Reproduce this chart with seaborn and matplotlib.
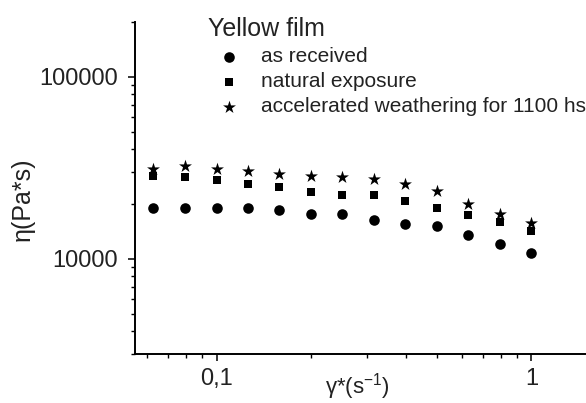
import matplotlib
matplotlib.use("Agg")
import matplotlib.pyplot as plt
import seaborn as sns
import pandas as pd
from matplotlib.ticker import LogLocator, NullFormatter, FixedLocator, FixedFormatter

# ---- data ----
shear_rate = [0.063, 0.0794, 0.1, 0.126, 0.158, 0.2, 0.251, 0.316, 0.398, 0.501, 0.631, 0.794, 1.0]
as_received = [19000, 18900, 19100, 18900, 18500, 17700, 17700, 16400, 15500, 15100, 13500, 12000, 10800]
natural_exposure = [28400, 28000, 27100, 25900, 24700, 23300, 22500, 22500, 20800, 19100, 17300, 16000, 14200]
accelerated = [31300, 32300, 31300, 30400, 29200, 28400, 28200, 27300, 25900, 23600, 20100, 17600, 15700]

series_names = ["as received", "natural exposure", "accelerated weathering for 1100 hs"]
legend_title = "Yellow film"
xtick_values = [0.1, 1]
xtick_labels = ["0,1", "1"]
ytick_values = [10000, 100000]
ytick_labels = ["10000", "100000"]

df = pd.DataFrame({
    "rate": shear_rate * 3,
    "eta": as_received + natural_exposure + accelerated,
    "sample": [series_names[0]] * len(shear_rate)
              + [series_names[1]] * len(shear_rate)
              + [series_names[2]] * len(shear_rate),
})

sns.set_style("ticks")
plt.rcParams["font.family"] = ["Liberation Sans", "DejaVu Sans"]
plt.rcParams["mathtext.fontset"] = "custom"
plt.rcParams["mathtext.rm"] = "Liberation Sans"
plt.rcParams["mathtext.default"] = "regular"

fig = plt.figure(figsize=(5.86, 4.03), dpi=100)
ax = fig.add_axes([135 / 586, 1 - 354 / 403, 1 - 135 / 586, (354 - 22) / 403])

markers = {series_names[0]: "o", series_names[1]: "s", series_names[2]: "*"}
sizes = {series_names[0]: 58, series_names[1]: 40, series_names[2]: 95}
for name in series_names:
    sub = df[df["sample"] == name]
    sns.scatterplot(data=sub, x="rate", y="eta", marker=markers[name], s=sizes[name],
                    color="black", edgecolor="black", linewidth=0, label=name, ax=ax)

ax.set_xscale("log")
ax.set_yscale("log")
ax.set_xlim(0.0551, 1.49)
ax.set_ylim(3000, 200000)

ax.xaxis.set_major_locator(FixedLocator(xtick_values))
ax.xaxis.set_major_formatter(FixedFormatter(xtick_labels))
ax.xaxis.set_minor_locator(LogLocator(base=10, subs=[2, 3, 4, 5, 6, 7, 8, 9]))
ax.xaxis.set_minor_formatter(NullFormatter())
ax.yaxis.set_major_locator(FixedLocator(ytick_values))
ax.yaxis.set_major_formatter(FixedFormatter(ytick_labels))
ax.yaxis.set_minor_locator(LogLocator(base=10, subs=[2, 3, 4, 5, 6, 7, 8, 9]))
ax.yaxis.set_minor_formatter(NullFormatter())

for s in ["top", "right"]:
    ax.spines[s].set_visible(False)
for s in ["left", "bottom"]:
    ax.spines[s].set_linewidth(1.4)
    ax.spines[s].set_color("black")

ax.tick_params(which="major", direction="out", length=5, width=1.1, labelsize=17,
               colors="black", labelcolor="#222222")
ax.tick_params(which="minor", direction="out", length=3, width=1.0, colors="black")
ax.tick_params(axis="y", which="major", pad=7)
ax.tick_params(axis="x", which="major", pad=5)

ax.set_xlabel("γ*(s$^{-1}$)", fontsize=16, color="#222222")
ax.set_ylabel("η(Pa*s)", fontsize=18, color="#222222")
ax.xaxis.set_label_coords(0.494, -0.05)
ax.yaxis.set_label_coords(-0.222, 0.467)

leg = ax.legend(title=legend_title, loc="upper left",
                bbox_to_anchor=(208 / 586, 1 - 17 / 403), bbox_transform=fig.transFigure,
                frameon=False, fontsize=15, title_fontsize=18, borderpad=0,
                handlelength=2.0, handletextpad=0.55, labelspacing=0.29,
                alignment="left", scatterpoints=1, borderaxespad=0)
for t in leg.get_texts():
    t.set_color("#222222")
leg.get_title().set_color("#222222")

fig.savefig("out.png", dpi=100, facecolor="white")
